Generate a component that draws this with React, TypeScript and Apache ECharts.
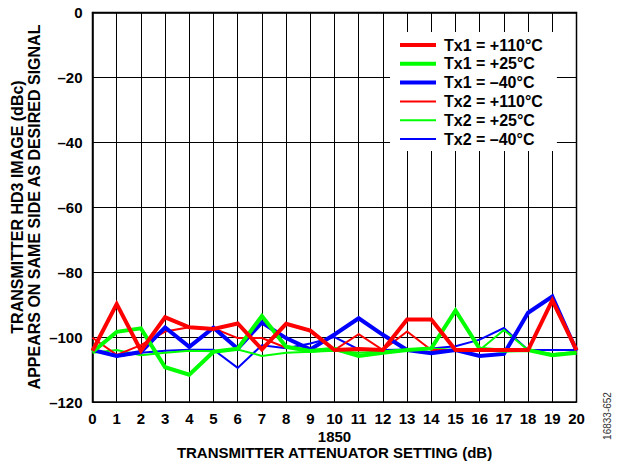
import React, { useEffect, useRef } from "react";
import * as echarts from "echarts";

const xValues = [0, 1, 2, 3, 4, 5, 6, 7, 8, 9, 10, 11, 12, 13, 14, 15, 16, 17, 18, 19, 20];
const tx1Hot = [-104.2, -89.8, -104.2, -93.9, -97.0, -97.5, -95.8, -103.8, -95.9, -98.0, -104.0, -103.7, -104.0, -94.6, -94.6, -104.0, -104.0, -104.0, -104.0, -88.7, -104.0];
const tx1Room = [-104.6, -98.4, -97.3, -109.3, -111.6, -104.5, -103.6, -93.5, -103.0, -104.3, -103.6, -105.8, -104.8, -104.0, -103.5, -91.8, -103.6, -104.2, -104.0, -105.6, -104.8];
const tx1Cold = [-104.0, -105.8, -104.6, -97.0, -103.0, -97.1, -103.6, -95.5, -100.3, -103.8, -99.2, -94.2, -99.3, -104.0, -105.0, -104.0, -105.8, -105.2, -92.5, -87.5, -104.2];
const tx2Hot = [-100.2, -105.5, -102.5, -98.3, -97.0, -97.3, -100.3, -100.3, -103.3, -103.8, -104.0, -99.1, -104.0, -98.3, -104.0, -104.0, -104.0, -104.0, -104.0, -105.7, -104.5];
const tx2Room = [-104.8, -104.0, -105.6, -104.8, -104.2, -104.4, -103.8, -105.8, -104.8, -104.5, -104.2, -104.8, -104.4, -103.8, -103.5, -104.0, -104.0, -97.8, -104.0, -105.2, -104.6];
const tx2Cold = [-104.0, -106.0, -104.8, -104.2, -103.9, -103.9, -109.5, -102.5, -103.4, -102.0, -100.0, -103.8, -104.0, -103.8, -103.5, -102.8, -100.8, -97.2, -104.0, -104.0, -104.0];

const legendNames = ["Tx1 = +110°C", "Tx1 = +25°C", "Tx1 = –40°C", "Tx2 = +110°C", "Tx2 = +25°C", "Tx2 = –40°C"];
const yTitle1 = "TRANSMITTER HD3 IMAGE (dBc)";
const yTitle2 = "APPEARS ON SAME SIDE AS DESIRED SIGNAL";
const xSub = "1850";
const xTitle = "TRANSMITTER ATTENUATOR SETTING (dB)";
const figId = "16833-652";

const FONT = '"Liberation Sans", Arial, Helvetica, sans-serif';
const THICK_ICON = "path://M0,0L36,0L36,4L0,4Z";
const THIN_ICON = "path://M0,0L36,0L36,2L0,2Z";

function mk(name: string, vals: number[], color: string, width: number, z: number) {
  return {
    name,
    type: "line",
    data: xValues.map((x, i) => [x, vals[i]]),
    symbol: "none",
    showSymbol: false,
    lineStyle: { color, width, join: "miter" },
    itemStyle: { color },
    z,
  };
}

export default function App() {
  const ref = useRef<HTMLDivElement>(null);
  useEffect(() => {
    if (!ref.current) return;
    const chart = echarts.init(ref.current, null, { renderer: "svg" });
    const centered = {
      textAlign: "center",
      textVerticalAlign: "middle",
      align: "center",
      verticalAlign: "middle",
    };
    chart.setOption({
      animation: false,
      backgroundColor: "#fff",
      grid: {
        left: 92.5,
        top: 12.5,
        right: 40.5,
        bottom: 61,
        show: true,
        borderColor: "#000",
        borderWidth: 1.5,
        backgroundColor: "transparent",
      },
      xAxis: {
        type: "value",
        min: 0,
        max: 20,
        interval: 1,
        axisLine: { show: true, lineStyle: { color: "#000", width: 1.5 } },
        axisTick: { show: false },
        splitLine: { show: true, lineStyle: { color: "#000", width: 1 } },
        axisLabel: {
          color: "#000",
          fontSize: 15,
          fontWeight: "bold",
          fontFamily: FONT,
          margin: 9,
        },
      },
      yAxis: {
        type: "value",
        min: -120,
        max: 0,
        interval: 20,
        axisLine: { show: true, lineStyle: { color: "#000", width: 1.5 } },
        axisTick: { show: false },
        splitLine: { show: true, lineStyle: { color: "#000", width: 1 } },
        axisLabel: {
          color: "#000",
          fontSize: 15,
          fontWeight: "bold",
          fontFamily: FONT,
          margin: 10,
          formatter: (v: number) => String(v).replace("-", "–"),
        },
      },
      legend: {
        orient: "vertical",
        left: 390,
        top: 32,
        padding: [5, 14, 4, 10],
        itemWidth: 36,
        itemHeight: 14,
        itemGap: 2.8,
        backgroundColor: "#fff",
        symbolKeepAspect: true,
        data: legendNames.map((n, i) => ({ name: n, icon: i < 3 ? THICK_ICON : THIN_ICON })),
        textStyle: {
          color: "#000",
          fontSize: 16,
          fontWeight: "bold",
          fontFamily: FONT,
          padding: [0, 0, 0, 3],
        },
      },
      series: [
        mk(legendNames[5], tx2Cold, "#0000ff", 2, 2),
        mk(legendNames[4], tx2Room, "#00ff00", 2, 2),
        mk(legendNames[3], tx2Hot, "#ff0000", 2, 2),
        mk(legendNames[2], tx1Cold, "#0000ff", 4, 3),
        mk(legendNames[1], tx1Room, "#00ff00", 4, 3),
        mk(legendNames[0], tx1Hot, "#ff0000", 4, 4),
      ],
      graphic: [
        {
          type: "text",
          x: 17.5,
          y: 207,
          rotation: Math.PI / 2,
          style: { text: yTitle1, fill: "#000", font: `bold 16px ${FONT}`, ...centered },
        },
        {
          type: "text",
          x: 34.5,
          y: 207,
          rotation: Math.PI / 2,
          style: { text: yTitle2, fill: "#000", font: `bold 16px ${FONT}`, ...centered },
        },
        {
          type: "text",
          x: 334.5,
          y: 436,
          style: { text: xSub, fill: "#000", font: `bold 15px ${FONT}`, ...centered },
        },
        {
          type: "text",
          x: 334.5,
          y: 452.5,
          style: { text: xTitle, fill: "#000", font: `bold 15px ${FONT}`, ...centered },
        },
        {
          type: "text",
          x: 607,
          y: 416,
          rotation: Math.PI / 2,
          style: { text: figId, fill: "#333", font: `10px ${FONT}`, ...centered },
        },
      ],
    });
    return () => chart.dispose();
  }, []);
  return (
    <div
      ref={ref}
      style={{ position: "absolute", left: 0, top: 0, width: 617, height: 463 }}
    />
  );
}
